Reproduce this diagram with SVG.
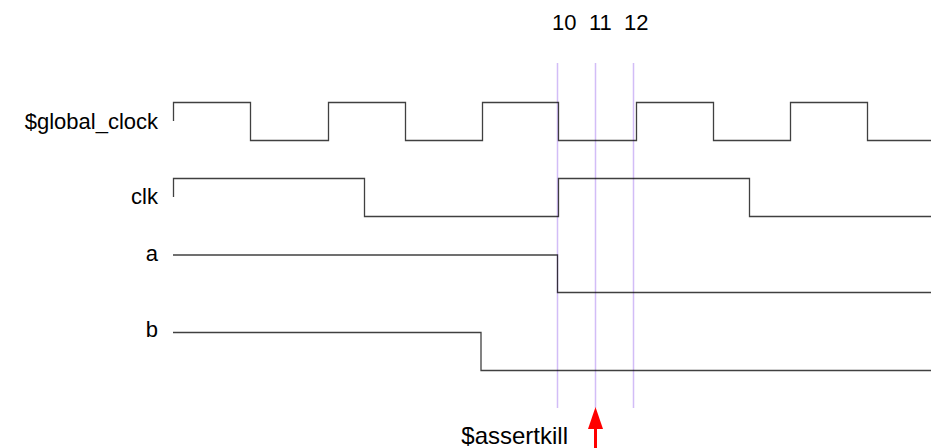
<svg xmlns="http://www.w3.org/2000/svg" width="931" height="448" viewBox="0 0 931 448">
<style>
.lbl{font-family:"Liberation Sans",Arial,sans-serif;font-size:22px;fill:#000}
.sig{fill:none;stroke:#000;stroke-width:1.3;stroke-opacity:0.75}
.mark{stroke:#d2bdf7;stroke-width:1.5}
</style>
<rect width="931" height="448" fill="#fff"/>
<g id="markers">
<line class="mark" x1="557.5" y1="63" x2="557.5" y2="408"/>
<line class="mark" x1="595.5" y1="63" x2="595.5" y2="408"/>
<line class="mark" x1="633.5" y1="63" x2="633.5" y2="408"/>
<text class="lbl" x="552" y="30">10</text>
<text class="lbl" x="589" y="30">11</text>
<text class="lbl" x="624" y="30">12</text>
</g>
<g id="sig-global_clock">
<text class="lbl" x="158" y="129" text-anchor="end">$global_clock</text>
<path class="sig" d="M173.5,121 V102.5 H250.5 V140.5 H328.5 V102.5 H405.5 V140.5 H482.5 V102.5 H558.5 V140.5 H636.5 V102.5 H713.5 V140.5 H790.5 V102.5 H867.5 V140.5 H931"/>
</g>
<g id="sig-clk">
<text class="lbl" x="158" y="204" text-anchor="end">clk</text>
<path class="sig" d="M173.5,197 V178.5 H364.5 V216.5 H558.5 V178.5 H749.5 V216.5 H931"/>
</g>
<g id="sig-a">
<text class="lbl" x="158" y="261" text-anchor="end">a</text>
<path class="sig" d="M173,255 H557.5 V292.5 H931"/>
</g>
<g id="sig-b">
<text class="lbl" x="158" y="337" text-anchor="end">b</text>
<path class="sig" d="M173,332.5 H481 V370.5 H931"/>
</g>
<g id="assertkill">
<line x1="595.5" y1="428" x2="595.5" y2="448" stroke="#ff0000" stroke-width="3"/>
<polygon points="595.5,407 603,429 588,429" fill="#ff0000"/>
<text class="lbl" x="568" y="444" text-anchor="end" style="font-size:24px">$assertkill</text>
</g>
</svg>
